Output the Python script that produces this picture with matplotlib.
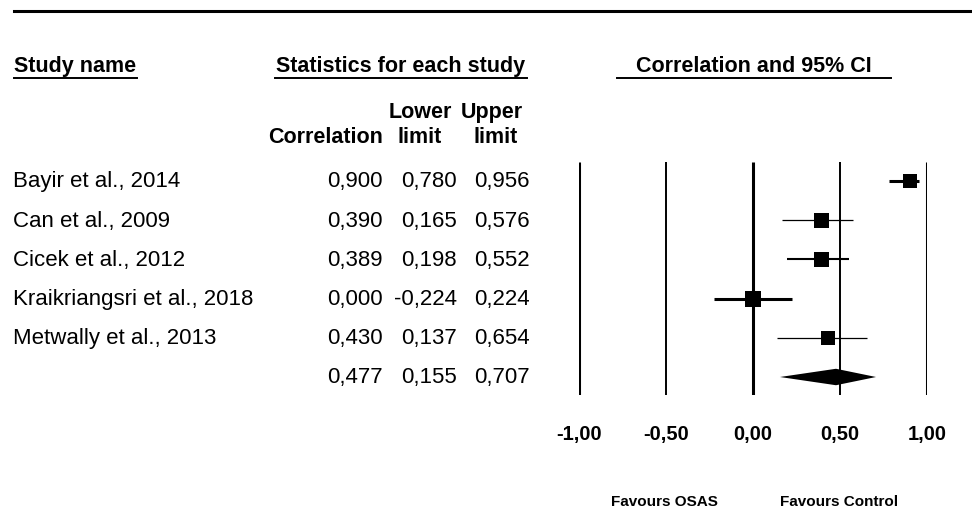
import numpy as np
import matplotlib
matplotlib.use("Agg")
import matplotlib.pyplot as plt

plt.rcParams["font.family"] = ["Liberation Sans", "DejaVu Sans"]

studies = ["Bayir et al., 2014", "Can et al., 2009", "Cicek et al., 2012",
           "Kraikriangsri et al., 2018", "Metwally et al., 2013"]
corr = [0.900, 0.390, 0.389, 0.000, 0.430]
lower = [0.780, 0.165, 0.198, -0.224, 0.137]
upper = [0.956, 0.576, 0.552, 0.224, 0.654]
summary = (0.477, 0.155, 0.707)
ticks = [-1.0, -0.5, 0.0, 0.5, 1.0]

def fmt(v):
    return f"{v:.3f}".replace(".", ",")

W, H = 972, 510
fig = plt.figure(figsize=(W / 100, H / 100), dpi=100)

# overlay axes in pixel coords for the table text
tx = fig.add_axes([0, 0, 1, 1])
tx.set_xlim(0, W)
tx.set_ylim(H, 0)
tx.axis("off")

# forest plot axes: -1 at x=579px, 1 at x=927px, lines from y=163 to 396
row0, dy = 182, 39.2
top, bot = 163, 396
fa = fig.add_axes([579 / W, 1 - bot / H, 348 / W, (bot - top) / H])
fa.set_xlim(-1, 1)
fa.set_ylim((bot - row0) / dy, -(row0 - top) / dy)
fa.axis("off")

tx.plot([14, W], [12, 12], color="black", lw=2.2)

# headers
hfont = dict(fontsize=15.5, fontweight="bold", va="baseline")
tx.text(14, 72, "Study name", ha="left", **hfont)
tx.plot([14, 137], [79, 79], color="black", lw=1.4)
tx.text(401, 72, "Statistics for each study", ha="center", **hfont)
tx.plot([275, 527], [79, 79], color="black", lw=1.4)
tx.text(754, 72, "Correlation and 95% CI", ha="center", **hfont)
tx.plot([617, 891], [79, 79], color="black", lw=1.4)

cx_corr, cx_low, cx_up = 383, 457, 530
tx.text(420, 118, "Lower", ha="center", **hfont)
tx.text(492, 118, "Upper", ha="center", **hfont)
tx.text(cx_corr, 143, "Correlation", ha="right", **hfont)
tx.text(420, 143, "limit", ha="center", **hfont)
tx.text(496, 143, "limit", ha="center", **hfont)

bfont = dict(fontsize=16, va="center")
rows = list(range(len(studies)))
for i in rows:
    y = row0 + dy * i
    tx.text(13, y, studies[i], ha="left", **bfont)
    tx.text(cx_corr, y, fmt(corr[i]), ha="right", **bfont)
    tx.text(cx_low, y, fmt(lower[i]), ha="right", **bfont)
    tx.text(cx_up, y, fmt(upper[i]), ha="right", **bfont)
ys = row0 + dy * len(studies)
tx.text(cx_corr, ys, fmt(summary[0]), ha="right", **bfont)
tx.text(cx_low, ys, fmt(summary[1]), ha="right", **bfont)
tx.text(cx_up, ys, fmt(summary[2]), ha="right", **bfont)

# reference lines
ylo, yhi = fa.get_ylim()
for t in ticks:
    lw = 2.2 if t in (-1.0, 0.0, 1.0) else 1.4
    fa.plot([t, t], [ylo, yhi], color="black", lw=lw, solid_capstyle="butt")

# study CIs and squares
sq_sizes = [9.6, 10.8, 10.8, 11.5, 10.6]
ci_lw = [2.2, 0.9, 1.5, 2.2, 0.9]
for i in rows:
    fa.plot([lower[i], upper[i]], [i, i], color="black", lw=ci_lw[i],
            solid_capstyle="butt", clip_on=False)
    fa.plot(corr[i], i, marker="s", ms=sq_sizes[i], mew=0, color="black",
            clip_on=False)

# summary diamond
k = len(studies)
h = 0.21
fa.fill([summary[1], summary[0], summary[2], summary[0]],
        [k, k - h, k, k + h], color="black", lw=0, clip_on=False)

# tick labels
for t in ticks:
    x_px = 579 + (t + 1) / 2 * 348
    tx.text(x_px, 435, f"{t:.2f}".replace(".", ","), ha="center", va="center",
            fontsize=14.5, fontweight="bold")

tx.text(664, 502, "Favours OSAS", ha="center", va="center", fontsize=11,
        fontweight="bold")
tx.text(839, 502, "Favours Control", ha="center", va="center", fontsize=11,
        fontweight="bold")

fig.savefig("out.png", dpi=100)
